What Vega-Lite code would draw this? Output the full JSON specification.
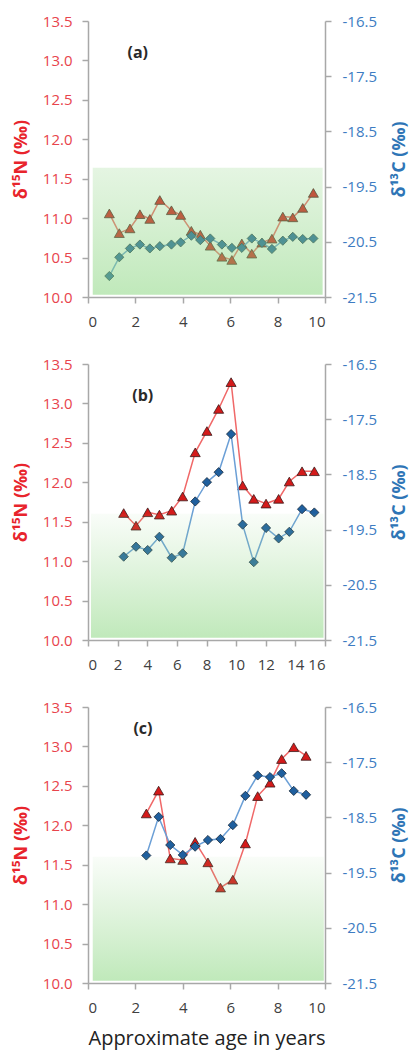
{
  "$schema": "https://vega.github.io/schema/vega-lite/v6.json",
  "padding": {"left": 12, "top": 14, "right": 0, "bottom": 3},
  "spacing": 28,
  "config": {
    "font": "Open Sans",
    "view": {"stroke": null},
    "axis": {
      "grid": false,
      "domainColor": "#a8a8a8",
      "domainWidth": 1.5,
      "tickColor": "#a8a8a8",
      "tickWidth": 1.5,
      "tickSize": 6,
      "labelFontSize": 15,
      "labelPadding": 10,
      "titleFontSize": 18,
      "titleFontWeight": "bold"
    },
    "axisX": {"labelPadding": 11, "labelColor": "#404040", "labelOverlap": false}
  },
  "datasets": {
    "a": [
      {"age": 0.9, "d15N": 11.06, "d13C": -21.12},
      {"age": 1.32, "d15N": 10.81, "d13C": -20.78},
      {"age": 1.77, "d15N": 10.87, "d13C": -20.62},
      {"age": 2.19, "d15N": 11.05, "d13C": -20.55},
      {"age": 2.61, "d15N": 10.99, "d13C": -20.62},
      {"age": 3.03, "d15N": 11.23, "d13C": -20.58},
      {"age": 3.52, "d15N": 11.1, "d13C": -20.55},
      {"age": 3.91, "d15N": 11.04, "d13C": -20.51},
      {"age": 4.36, "d15N": 10.84, "d13C": -20.39},
      {"age": 4.74, "d15N": 10.79, "d13C": -20.47},
      {"age": 5.16, "d15N": 10.65, "d13C": -20.44},
      {"age": 5.65, "d15N": 10.51, "d13C": -20.55},
      {"age": 6.07, "d15N": 10.47, "d13C": -20.61},
      {"age": 6.49, "d15N": 10.68, "d13C": -20.61},
      {"age": 6.91, "d15N": 10.55, "d13C": -20.44},
      {"age": 7.34, "d15N": 10.69, "d13C": -20.52},
      {"age": 7.76, "d15N": 10.74, "d13C": -20.63},
      {"age": 8.22, "d15N": 11.02, "d13C": -20.48},
      {"age": 8.64, "d15N": 11.01, "d13C": -20.41},
      {"age": 9.06, "d15N": 11.13, "d13C": -20.45},
      {"age": 9.51, "d15N": 11.32, "d13C": -20.44}
    ],
    "b": [
      {"age": 2.41, "d15N": 11.61, "d13C": -19.99},
      {"age": 3.24, "d15N": 11.45, "d13C": -19.81},
      {"age": 4.03, "d15N": 11.62, "d13C": -19.87},
      {"age": 4.82, "d15N": 11.59, "d13C": -19.63},
      {"age": 5.65, "d15N": 11.64, "d13C": -20.01},
      {"age": 6.39, "d15N": 11.82, "d13C": -19.93},
      {"age": 7.24, "d15N": 12.38, "d13C": -18.99},
      {"age": 8.03, "d15N": 12.65, "d13C": -18.64},
      {"age": 8.82, "d15N": 12.93, "d13C": -18.46},
      {"age": 9.66, "d15N": 13.27, "d13C": -17.77},
      {"age": 10.44, "d15N": 11.96, "d13C": -19.41},
      {"age": 11.19, "d15N": 11.79, "d13C": -20.09},
      {"age": 12.02, "d15N": 11.73, "d13C": -19.47},
      {"age": 12.87, "d15N": 11.79, "d13C": -19.66},
      {"age": 13.59, "d15N": 12.01, "d13C": -19.54},
      {"age": 14.45, "d15N": 12.14, "d13C": -19.13},
      {"age": 15.28, "d15N": 12.14, "d13C": -19.19}
    ],
    "c": [
      {"age": 2.46, "d15N": 12.15, "d13C": -19.19},
      {"age": 2.98, "d15N": 12.44, "d13C": -18.49},
      {"age": 3.47, "d15N": 11.58, "d13C": -19.0},
      {"age": 4.0, "d15N": 11.56, "d13C": -19.18},
      {"age": 4.52, "d15N": 11.79, "d13C": -19.03},
      {"age": 5.06, "d15N": 11.53, "d13C": -18.91},
      {"age": 5.59, "d15N": 11.21, "d13C": -18.89},
      {"age": 6.11, "d15N": 11.31, "d13C": -18.64},
      {"age": 6.64, "d15N": 11.77, "d13C": -18.11},
      {"age": 7.16, "d15N": 12.37, "d13C": -17.74},
      {"age": 7.68, "d15N": 12.54, "d13C": -17.77},
      {"age": 8.17, "d15N": 12.84, "d13C": -17.7},
      {"age": 8.68, "d15N": 12.99, "d13C": -18.02},
      {"age": 9.2, "d15N": 12.88, "d13C": -18.09}
    ],
    "band_a": [{"x0": 0.2, "x1": 9.9, "lo": 10.03, "hi": 11.64}],
    "band_b": [{"x0": 0.2, "x1": 15.9, "lo": 10.03, "hi": 11.6}],
    "band_c": [{"x0": 0.2, "x1": 9.95, "lo": 10.03, "hi": 11.6}],
    "lab_a": [{"age": 2.1, "d15N": 13.1, "label": "(a)"}],
    "lab_b": [{"age": 3.7, "d15N": 13.09, "label": "(b)"}],
    "lab_c": [{"age": 2.32, "d15N": 13.22, "label": "(c)"}]
  },
  "vconcat": [
    {
      "width": 237, "height": 276,
      "resolve": {"scale": {"y": "independent"}},
      "layer": [
        {
          "data": {"name": "a"},
          "mark": {"type": "line", "color": "#f06868", "strokeWidth": 1.5,
                   "point": {"shape": "triangle-up", "size": 100, "filled": true, "fill": "#d41a1a", "stroke": "#3a1a1a", "strokeWidth": 0.8}},
          "encoding": {
            "x": {"field": "age", "type": "quantitative", "scale": {"domain": [0, 10], "nice": false},
                  "axis": {"values": [0, 2, 4, 6, 8, 10], "title": null}},
            "y": {"field": "d15N", "type": "quantitative", "scale": {"domain": [10, 13.5], "zero": false, "nice": false},
                  "axis": {"orient": "left", "values": [10, 10.5, 11, 11.5, 12, 12.5, 13, 13.5], "format": ".1f",
                           "labelColor": "#e8444c", "title": "δ¹⁵N (‰)", "titleColor": "#e8242c", "titlePadding": 12}}
          }
        },
        {
          "data": {"name": "a"},
          "mark": {"type": "line", "color": "#6b9fd6", "strokeWidth": 1.5,
                   "point": {"shape": "diamond", "size": 85, "filled": true, "fill": "#1f5f9e", "stroke": "#16283a", "strokeWidth": 0.8}},
          "encoding": {
            "x": {"field": "age", "type": "quantitative", "axis": {"values": [0, 2, 4, 6, 8, 10], "title": null}},
            "y": {"field": "d13C", "type": "quantitative", "scale": {"domain": [-21.5, -16.5], "zero": false, "nice": false},
                  "axis": {"orient": "right", "values": [-21.5, -20.5, -19.5, -18.5, -17.5, -16.5], "labelExpr": "toString(datum.value)", "labelPadding": 11,
                           "labelColor": "#3d7cc2", "title": "δ¹³C (‰)", "titleColor": "#2e75b6", "titleAngle": 270, "titleBaseline": "top", "titlePadding": 14}}
          }
        },
        {
          "data": {"name": "band_a"},
          "mark": {"type": "rect", "fill": {"gradient": "linear", "x1": 0, "y1": 0, "x2": 0, "y2": 1,
                   "stops": [{"offset": 0, "color": "rgba(150,215,140,0.25)"}, {"offset": 1, "color": "rgba(140,215,130,0.55)"}]}},
          "encoding": {
            "x": {"field": "x0", "type": "quantitative", "axis": {"values": [0, 2, 4, 6, 8, 10], "title": null}},
            "x2": {"field": "x1"},
            "y": {"field": "lo", "type": "quantitative", "scale": {"domain": [10, 13.5], "nice": false, "zero": false}, "axis": null},
            "y2": {"field": "hi"}
          }
        },
        {
          "data": {"name": "lab_a"},
          "mark": {"type": "text", "fontSize": 16, "fontWeight": "bold", "color": "#2a2a2a"},
          "encoding": {
            "x": {"field": "age", "type": "quantitative", "axis": {"values": [0, 2, 4, 6, 8, 10], "title": null}},
            "y": {"field": "d15N", "type": "quantitative", "scale": {"domain": [10, 13.5], "nice": false, "zero": false}, "axis": null},
            "text": {"field": "label"}
          }
        }
      ]
    },
    {
      "width": 237, "height": 276,
      "resolve": {"scale": {"y": "independent"}},
      "layer": [
        {
          "data": {"name": "b"},
          "mark": {"type": "line", "color": "#f06868", "strokeWidth": 1.5,
                   "point": {"shape": "triangle-up", "size": 100, "filled": true, "fill": "#d41a1a", "stroke": "#3a1a1a", "strokeWidth": 0.8}},
          "encoding": {
            "x": {"field": "age", "type": "quantitative", "scale": {"domain": [0, 16], "nice": false},
                  "axis": {"values": [0, 2, 4, 6, 8, 10, 12, 14, 16], "title": null, "labelOverlap": false}},
            "y": {"field": "d15N", "type": "quantitative", "scale": {"domain": [10, 13.5], "zero": false, "nice": false},
                  "axis": {"orient": "left", "values": [10, 10.5, 11, 11.5, 12, 12.5, 13, 13.5], "format": ".1f",
                           "labelColor": "#e8444c", "title": "δ¹⁵N (‰)", "titleColor": "#e8242c", "titlePadding": 12}}
          }
        },
        {
          "data": {"name": "b"},
          "mark": {"type": "line", "color": "#6b9fd6", "strokeWidth": 1.5,
                   "point": {"shape": "diamond", "size": 85, "filled": true, "fill": "#1f5f9e", "stroke": "#16283a", "strokeWidth": 0.8}},
          "encoding": {
            "x": {"field": "age", "type": "quantitative", "axis": {"values": [0, 2, 4, 6, 8, 10, 12, 14, 16], "title": null, "labelOverlap": false}},
            "y": {"field": "d13C", "type": "quantitative", "scale": {"domain": [-21.5, -16.5], "zero": false, "nice": false},
                  "axis": {"orient": "right", "values": [-21.5, -20.5, -19.5, -18.5, -17.5, -16.5], "labelExpr": "toString(datum.value)", "labelPadding": 11,
                           "labelColor": "#3d7cc2", "title": "δ¹³C (‰)", "titleColor": "#2e75b6", "titleAngle": 270, "titleBaseline": "top", "titlePadding": 14}}
          }
        },
        {
          "data": {"name": "band_b"},
          "mark": {"type": "rect", "fill": {"gradient": "linear", "x1": 0, "y1": 0, "x2": 0, "y2": 1,
                   "stops": [{"offset": 0, "color": "rgba(150,215,140,0.06)"}, {"offset": 1, "color": "rgba(140,215,130,0.55)"}]}},
          "encoding": {
            "x": {"field": "x0", "type": "quantitative", "axis": {"values": [0, 2, 4, 6, 8, 10, 12, 14, 16], "title": null, "labelOverlap": false}},
            "x2": {"field": "x1"},
            "y": {"field": "lo", "type": "quantitative", "scale": {"domain": [10, 13.5], "nice": false, "zero": false}, "axis": null},
            "y2": {"field": "hi"}
          }
        },
        {
          "data": {"name": "lab_b"},
          "mark": {"type": "text", "fontSize": 16, "fontWeight": "bold", "color": "#2a2a2a"},
          "encoding": {
            "x": {"field": "age", "type": "quantitative", "axis": {"values": [0, 2, 4, 6, 8, 10, 12, 14, 16], "title": null, "labelOverlap": false}},
            "y": {"field": "d15N", "type": "quantitative", "scale": {"domain": [10, 13.5], "nice": false, "zero": false}, "axis": null},
            "text": {"field": "label"}
          }
        }
      ]
    },
    {
      "width": 237, "height": 276,
      "resolve": {"scale": {"y": "independent"}},
      "layer": [
        {
          "data": {"name": "c"},
          "mark": {"type": "line", "color": "#f06868", "strokeWidth": 1.5,
                   "point": {"shape": "triangle-up", "size": 100, "filled": true, "fill": "#d41a1a", "stroke": "#3a1a1a", "strokeWidth": 0.8}},
          "encoding": {
            "x": {"field": "age", "type": "quantitative", "scale": {"domain": [0, 10], "nice": false},
                  "axis": {"values": [0, 2, 4, 6, 8, 10], "title": "Approximate age in years",
                           "titleFontSize": 20, "titleFontWeight": "normal", "titleColor": "#222222", "titlePadding": 13}},
            "y": {"field": "d15N", "type": "quantitative", "scale": {"domain": [10, 13.5], "zero": false, "nice": false},
                  "axis": {"orient": "left", "values": [10, 10.5, 11, 11.5, 12, 12.5, 13, 13.5], "format": ".1f",
                           "labelColor": "#e8444c", "title": "δ¹⁵N (‰)", "titleColor": "#e8242c", "titlePadding": 12}}
          }
        },
        {
          "data": {"name": "c"},
          "mark": {"type": "line", "color": "#6b9fd6", "strokeWidth": 1.5,
                   "point": {"shape": "diamond", "size": 85, "filled": true, "fill": "#1f5f9e", "stroke": "#16283a", "strokeWidth": 0.8}},
          "encoding": {
            "x": {"field": "age", "type": "quantitative", "axis": {"values": [0, 2, 4, 6, 8, 10], "title": "Approximate age in years",
                           "titleFontSize": 20, "titleFontWeight": "normal", "titleColor": "#222222", "titlePadding": 13}},
            "y": {"field": "d13C", "type": "quantitative", "scale": {"domain": [-21.5, -16.5], "zero": false, "nice": false},
                  "axis": {"orient": "right", "values": [-21.5, -20.5, -19.5, -18.5, -17.5, -16.5], "labelExpr": "toString(datum.value)", "labelPadding": 11,
                           "labelColor": "#3d7cc2", "title": "δ¹³C (‰)", "titleColor": "#2e75b6", "titleAngle": 270, "titleBaseline": "top", "titlePadding": 14}}
          }
        },
        {
          "data": {"name": "band_c"},
          "mark": {"type": "rect", "fill": {"gradient": "linear", "x1": 0, "y1": 0, "x2": 0, "y2": 1,
                   "stops": [{"offset": 0, "color": "rgba(150,215,140,0.06)"}, {"offset": 1, "color": "rgba(140,215,130,0.55)"}]}},
          "encoding": {
            "x": {"field": "x0", "type": "quantitative", "axis": {"values": [0, 2, 4, 6, 8, 10], "title": "Approximate age in years",
                           "titleFontSize": 20, "titleFontWeight": "normal", "titleColor": "#222222", "titlePadding": 13}},
            "x2": {"field": "x1"},
            "y": {"field": "lo", "type": "quantitative", "scale": {"domain": [10, 13.5], "nice": false, "zero": false}, "axis": null},
            "y2": {"field": "hi"}
          }
        },
        {
          "data": {"name": "lab_c"},
          "mark": {"type": "text", "fontSize": 16, "fontWeight": "bold", "color": "#2a2a2a"},
          "encoding": {
            "x": {"field": "age", "type": "quantitative", "axis": {"values": [0, 2, 4, 6, 8, 10], "title": "Approximate age in years",
                           "titleFontSize": 20, "titleFontWeight": "normal", "titleColor": "#222222", "titlePadding": 13}},
            "y": {"field": "d15N", "type": "quantitative", "scale": {"domain": [10, 13.5], "nice": false, "zero": false}, "axis": null},
            "text": {"field": "label"}
          }
        }
      ]
    }
  ]
}
